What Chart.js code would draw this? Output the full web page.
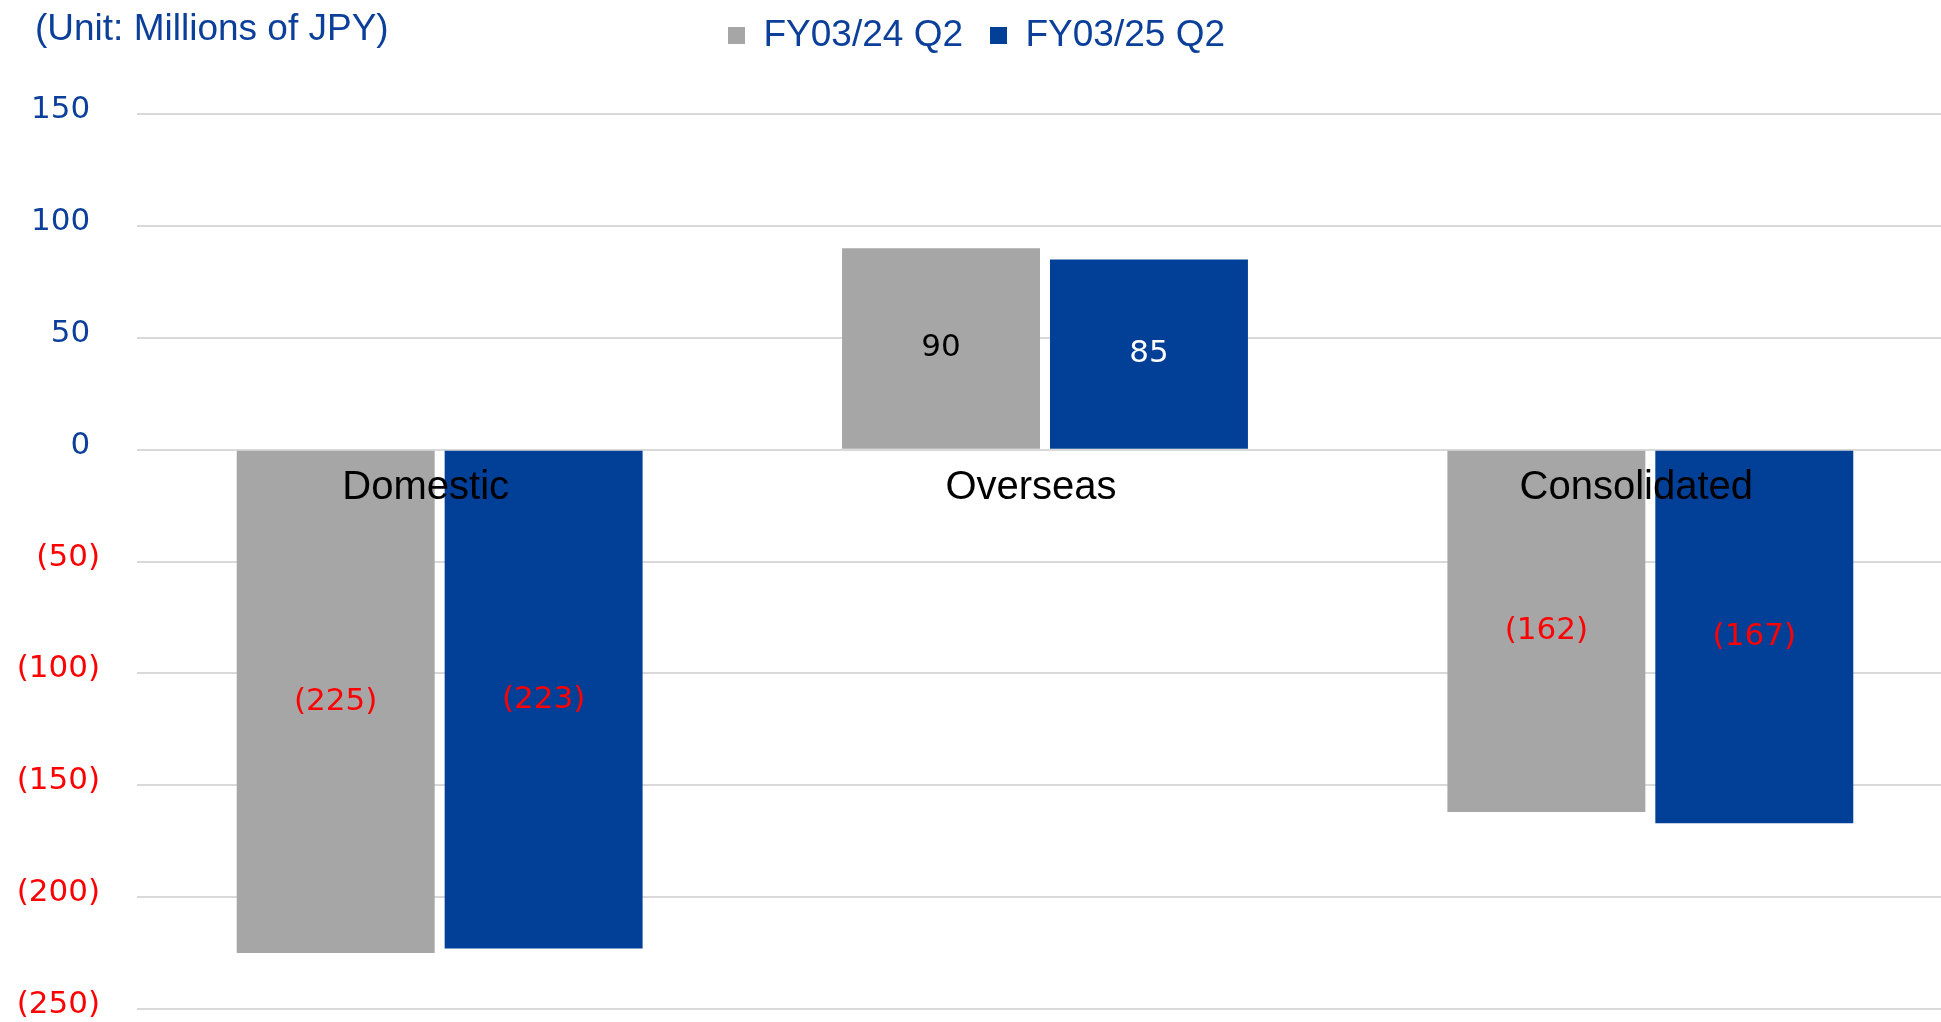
<!DOCTYPE html>
<html>
<head>
<meta charset="utf-8">
<title>Segment results</title>
<script src="https://cdn.jsdelivr.net/npm/chart.js@4.4.1/dist/chart.umd.min.js"></script>
<style>
    html, body { margin: 0; padding: 0; background: #fff; overflow: hidden; }
    #wrap { position: relative; width: 1953px; height: 1022px; }
    #unit {
        position: absolute; left: 35px; top: 8px;
        font: 37px Arial, "Liberation Sans", sans-serif;
        line-height: 40px; color: #0B3F99; white-space: nowrap;
    }
</style>
</head>
<body>
<div id="wrap">
    <canvas id="chart"></canvas>
    <div id="unit">(Unit: Millions of JPY)</div>
</div>
<script>
const categories = ['Domestic', 'Overseas', 'Consolidated'];
const seriesNames = ['FY03/24 Q2', 'FY03/25 Q2'];
const fy24Values = [-225, 90, -162];
const fy25Values = [-223, 85, -167];
const yTicks = [150, 100, 50, 0, -50, -100, -150, -200, -250];

const BLUE_TEXT = '#0B3F99';
const RED = '#FF0000';

// (225) style for negatives, like the Excel number format
const fmt = v => v < 0 ? '(' + (-v) + ')' : String(v);

// value labels in the middle of every bar
const valueLabels = {
    id: 'valueLabels',
    afterDatasetsDraw(chart) {
        const ctx = chart.ctx;
        ctx.save();
        ctx.font = '31px Verdana, "DejaVu Sans", sans-serif';
        ctx.textAlign = 'center';
        ctx.textBaseline = 'middle';
        chart.data.datasets.forEach((ds, i) => {
            const meta = chart.getDatasetMeta(i);
            meta.data.forEach((bar, j) => {
                const v = ds.data[j];
                const p = bar.getProps(['x', 'y', 'base'], true);
                ctx.fillStyle = v < 0 ? RED : ds.labelColor;
                ctx.fillText(fmt(v), p.x, (p.y + p.base) / 2);
            });
        });
        ctx.restore();
    }
};

// leave room between the legend row and the plot
const legendGap = {
    id: 'legendGap',
    beforeInit(chart) {
        const fit = chart.legend.fit;
        chart.legend.fit = function () {
            fit.call(this);
            this.height += 50;
        };
    }
};

new Chart(document.getElementById('chart'), {
    type: 'bar',
    data: {
        labels: categories,
        datasets: [{
            label: seriesNames[0],
            data: fy24Values,
            backgroundColor: '#A6A6A6',
            labelColor: '#000000',
            categoryPercentage: 0.687,
            barPercentage: 0.952
        }, {
            label: seriesNames[1],
            data: fy25Values,
            backgroundColor: '#023F96',
            labelColor: '#FFFFFF',
            categoryPercentage: 0.687,
            barPercentage: 0.952
        }]
    },
    options: {
        responsive: true,
        maintainAspectRatio: false,
        animation: false,
        layout: { padding: { top: -10, right: 0, bottom: 13, left: 0 } },
        plugins: {
            legend: {
                position: 'top',
                labels: {
                    boxWidth: 17,
                    boxHeight: 17,
                    padding: 27,
                    color: BLUE_TEXT,
                    font: { family: 'Arial, "Liberation Sans", sans-serif', size: 37 }
                }
            },
            tooltip: { enabled: false }
        },
        scales: {
            x: {
                position: { y: 0 },
                afterFit(scale) { scale.height = 0; },
                grid: { display: false },
                border: { display: false },
                ticks: {
                    z: 1,
                    color: '#000',
                    padding: 6,
                    labelOffset: -14,
                    font: { family: 'Arial, "Liberation Sans", sans-serif', size: 40 }
                }
            },
            y: {
                min: Math.min(...yTicks),
                max: Math.max(...yTicks),
                afterFit(scale) { scale.width = 137; },
                grid: {
                    color: '#D9D9D9', lineWidth: 2,
                    drawTicks: true, tickLength: 37, tickColor: 'rgba(0,0,0,0)'
                },
                border: { display: false },
                ticks: {
                    stepSize: 50,
                    padding: 0,
                    labelOffset: -4,
                    color: c => c.tick.value < 0 ? RED : BLUE_TEXT,
                    font: { family: 'Verdana, "DejaVu Sans", sans-serif', size: 31, lineHeight: 0.8 },
                    callback: v => v < 0 ? fmt(v) : v + ' '
                }
            }
        }
    },
    plugins: [valueLabels, legendGap]
});
</script>
</body>
</html>
